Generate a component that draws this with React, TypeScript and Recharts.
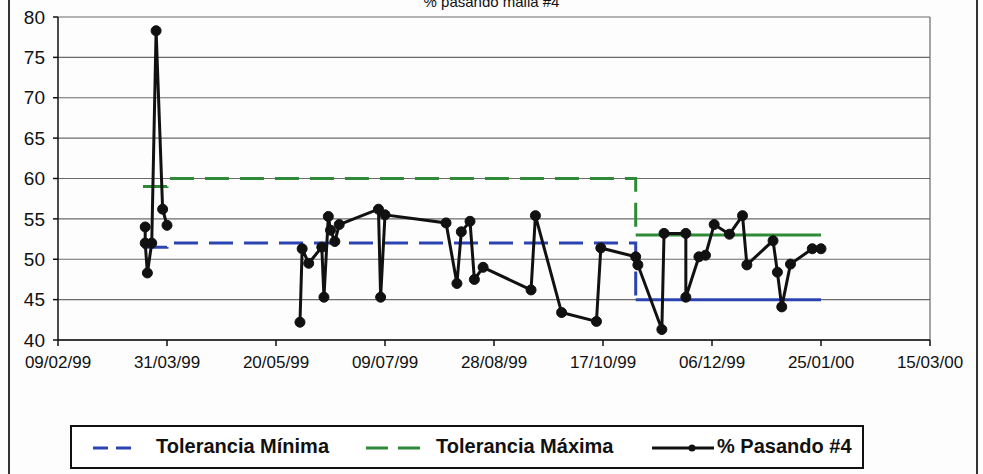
import React from 'react';
import { LineChart, Line, XAxis, YAxis, CartesianGrid, ReferenceLine } from 'recharts';

// Días contados desde el 09/02/99; null corta la línea entre campañas
const sampleDays = [
  40, 40, 41, 43, 45, 48, 50,
  80,
  111, 112, 115, 121, 122, 124, 125, 127, 129,
  147, 148, 150, 178, 183, 185, 189, 191, 195,
  217, 219, 231, 247, 249, 265, 266,
  277, 278, 288, 288, 294, 297, 301, 308, 314, 316,
  328, 330, 332, 336, 346, 350,
];
const pasando4: (number | null)[] = [
  54, 52, 48.3, 52, 78.3, 56.2, 54.2,
  null,
  42.2, 51.3, 49.5, 51.5, 45.3, 55.3, 53.6, 52.2, 54.3,
  56.2, 45.3, 55.5, 54.5, 47, 53.4, 54.7, 47.5, 49,
  46.2, 55.4, 43.4, 42.3, 51.4, 50.3, 49.3,
  41.3, 53.2, 53.2, 45.3, 50.3, 50.5, 54.3, 53.1, 55.4, 49.3,
  52.3, 48.4, 44.1, 49.4, 51.3, 51.3,
];

// Tolerancias: tramo discontinuo y tramo final
const tolDaysEarly = [39, 50, 50, 265, 265];
const tolMinEarly = [51.5, 51.5, 52, 52, 45];
const tolMaxEarly = [59, 59, 60, 60, 53];
const tolDaysLate = [265, 350];
const tolMinLate = [45, 45];
const tolMaxLate = [53, 53];

const tickDays = [0, 50, 100, 150, 200, 250, 300, 350, 400];
const tickLabels = ['09/02/99', '31/03/99', '20/05/99', '09/07/99', '28/08/99', '17/10/99', '06/12/99', '25/01/00', '15/03/00'];
const yTicks = [40, 45, 50, 55, 60, 65, 70, 75, 80];

const BLUE = '#2b44b2';
const GREEN = '#2e8a36';
const BLACK = '#111';
const FONT = '"Liberation Sans", Arial, sans-serif';

const toSeries = (days: number[], vals: (number | null)[]) => days.map((day, i) => ({ day, value: vals[i] }));

const samples = toSeries(sampleDays, pasando4);
const minEarly = toSeries(tolDaysEarly, tolMinEarly);
const maxEarly = toSeries(tolDaysEarly, tolMaxEarly);
const minLate = toSeries(tolDaysLate, tolMinLate);
const maxLate = toSeries(tolDaysLate, tolMaxLate);

const labelFor = (d: number) => tickLabels[tickDays.indexOf(d)] ?? '';

const LegendBox = () => (
  <div
    style={{
      position: 'absolute', left: 70, top: 425, width: 790, height: 40,
      border: '2px solid #111', background: '#fff', fontFamily: FONT,
      fontWeight: 'bold', fontSize: 20, color: '#111',
    }}
  >
    <svg width={790} height={40} style={{ position: 'absolute', left: 0, top: 0 }}>
      <line x1={21} y1={21} x2={60} y2={21} stroke={BLUE} strokeWidth={3} strokeDasharray="15 8" />
      <line x1={294} y1={21} x2={350} y2={21} stroke={GREEN} strokeWidth={3} strokeDasharray="22 10" />
      <line x1={580} y1={21} x2={642} y2={21} stroke={BLACK} strokeWidth={3} />
      <circle cx={620} cy={21} r={3.5} fill={BLACK} />
    </svg>
    <span style={{ position: 'absolute', left: 84, top: 8 }}>Tolerancia Mínima</span>
    <span style={{ position: 'absolute', left: 364, top: 8 }}>Tolerancia Máxima</span>
    <span style={{ position: 'absolute', left: 645, top: 8 }}>% Pasando #4</span>
  </div>
);

export default function App() {
  return (
    <div style={{ position: 'fixed', left: 0, top: 0, width: 983, height: 474, overflow: 'hidden', background: '#fdfdfd' }}>
      <div style={{ position: 'absolute', left: 8, top: -20, width: 966, height: 520, border: '2px solid #333' }} />
      <div style={{ position: 'absolute', left: 0, width: 983, top: -7, textAlign: 'center', fontFamily: FONT, fontSize: 15, color: '#111' }}>
        % pasando malla #4
      </div>
      <div style={{ position: 'absolute', left: 0, top: 0 }}>
        <LineChart width={983} height={474} margin={{ top: 17, right: 53, bottom: 104, left: 0 }}>
          <CartesianGrid vertical={false} stroke="#6a6a6a" strokeWidth={1.2} />
          <XAxis
            type="number"
            dataKey="day"
            domain={[0, 400]}
            ticks={tickDays}
            tickFormatter={labelFor}
            allowDataOverflow
            height={30}
            stroke="#111"
            strokeWidth={1.5}
            tickSize={6}
            tickMargin={10}
            tick={{ fontSize: 17, fill: '#111', fontFamily: FONT }}
            interval={0}
          />
          <YAxis
            type="number"
            domain={[40, 80]}
            ticks={yTicks}
            width={58}
            stroke="#111"
            strokeWidth={1.5}
            tickSize={5}
            tickMargin={8}
            tick={{ fontSize: 19, fill: '#111', fontFamily: FONT }}
            interval={0}
          />
          <ReferenceLine x={400} stroke="#6a6a6a" strokeWidth={1.2} />
          <Line data={minEarly} dataKey="value" type="linear" stroke={BLUE} strokeWidth={3} strokeDasharray="24 11" dot={false} isAnimationActive={false} />
          <Line data={maxEarly} dataKey="value" type="linear" stroke={GREEN} strokeWidth={3} strokeDasharray="24 11" dot={false} isAnimationActive={false} />
          <Line data={minLate} dataKey="value" type="linear" stroke={BLUE} strokeWidth={3} dot={false} isAnimationActive={false} />
          <Line data={maxLate} dataKey="value" type="linear" stroke={GREEN} strokeWidth={3} dot={false} isAnimationActive={false} />
          <Line
            data={samples}
            dataKey="value"
            type="linear"
            stroke={BLACK}
            strokeWidth={3}
            connectNulls={false}
            dot={{ r: 5, fill: BLACK, stroke: BLACK, strokeWidth: 1 }}
            isAnimationActive={false}
          />
        </LineChart>
      </div>
      <LegendBox />
    </div>
  );
}
